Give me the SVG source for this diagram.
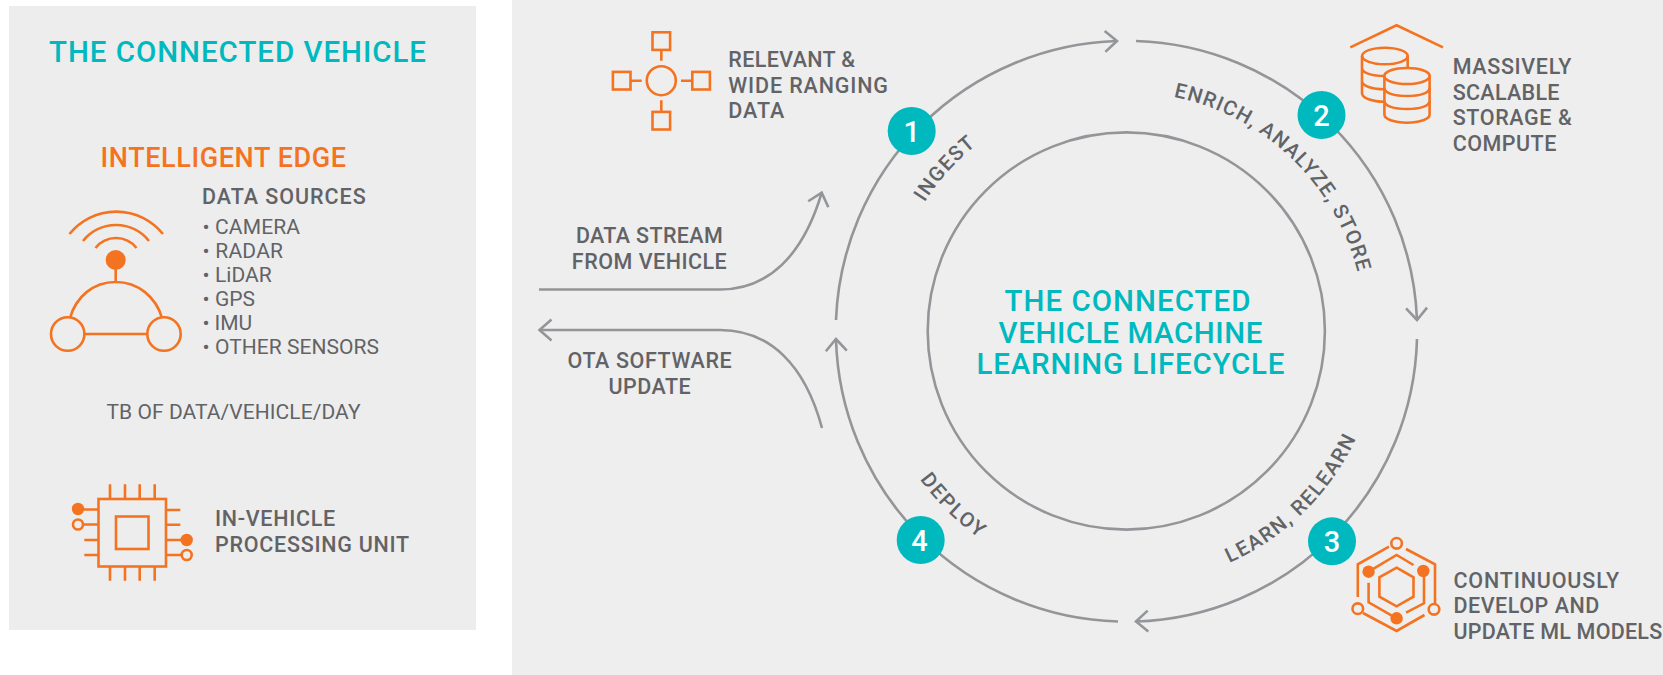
<svg xmlns="http://www.w3.org/2000/svg" width="1663" height="675" viewBox="0 0 1663 675">
<style>
text{font-family:Roboto,"Liberation Sans",sans-serif;fill:#626366}
.h{font-weight:500;fill:#00b9bf;font-size:29.5px;letter-spacing:1px}
.e{font-weight:500;fill:#f47321;font-size:27px;letter-spacing:1px}
.l{font-weight:500;font-size:21.5px;letter-spacing:.8px}
.r{font-size:21px}
.a{font-weight:500;font-size:20.5px;letter-spacing:1.3px}
.n{font-weight:500;font-size:29px;fill:#fff;text-anchor:middle}
.m{text-anchor:middle}
.c{fill:none;stroke:#939598;stroke-width:2.6}
.i{fill:none;stroke:#f47321;stroke-width:2.6}
.f{fill:#f47321;stroke:none}
.b{fill:#00b9bf}
</style>
<defs>
<marker id="ah" markerUnits="userSpaceOnUse" markerWidth="30" markerHeight="30" refX="15" refY="15" orient="auto" overflow="visible"><path d="M3,4.5L15,15L3,25.5" fill="none" stroke="#939598" stroke-width="2.6"/></marker>
<path id="tp" d="M887,331A239,239 0 0 1 1365,331"/>
<path id="bp" d="M872,331A254,254 0 0 0 1380,331"/>
</defs>
<rect width="1663" height="675" fill="#fff"/>
<rect x="9" y="6" width="467" height="624" fill="#ededed"/>
<rect x="512" y="0" width="1151" height="675" fill="#eee"/>

<g id="connectors">
<path class="c" marker-end="url(#ah)" d="M836,320A290.3,290.3 0 0 1 1117,41"/>
<path class="c" marker-end="url(#ah)" d="M1136,41A290.3,290.3 0 0 1 1417,320"/>
<path class="c" marker-end="url(#ah)" d="M1417,339A290.3,290.3 0 0 1 1136,621.5"/>
<path class="c" marker-end="url(#ah)" d="M1118,621.5A290.3,290.3 0 0 1 836,339"/>
<path class="c" marker-end="url(#ah)" d="M539,289.5H720C768,289.5 803,256 821.7,192.7"/>
<path class="c" marker-end="url(#ah)" d="M822,428C805,365 770,330 720,330H539.5"/>
</g>

<g id="panel-title"><text class="h" x="49" y="61.7" textLength="378">THE CONNECTED VEHICLE</text></g>
<g id="edge-title"><text class="e" x="100.5" y="166.7" textLength="246.5">INTELLIGENT EDGE</text></g>

<g id="vehicle-icon">
<path class="i" d="M69.5,234A60,60 0 0 1 163,234M83,241A42,42 0 0 1 149,241M95.5,248A26,26 0 0 1 136.5,248M115.7,262V282M70,318C76,297 93,282 115.7,282C138,282 156,297 162,318M84.5,334H147.5"/>
<circle class="f" cx="115.7" cy="260" r="10"/>
<circle class="i" cx="67.7" cy="334" r="16.7"/>
<circle class="i" cx="164" cy="334" r="16.7"/>
</g>

<g id="data-sources">
<text class="l" x="202" y="204" textLength="164.5">DATA SOURCES</text>
<text class="r" x="202.5" y="234" textLength="97.5">• CAMERA</text>
<text class="r" x="202.5" y="258" textLength="80.5">• RADAR</text>
<text class="r" x="202.5" y="282" textLength="69.2">• LiDAR</text>
<text class="r" x="202.5" y="306" textLength="52.5">• GPS</text>
<text class="r" x="202.5" y="330" textLength="49.5">• IMU</text>
<text class="r" x="202.5" y="354" textLength="176.5">• OTHER SENSORS</text>
</g>
<g id="data-volume"><text class="r" x="106.5" y="418.7" textLength="254">TB OF DATA/VEHICLE/DAY</text></g>

<g id="chip-icon">
<rect class="i" x="98.5" y="499" width="67.5" height="67.5"/>
<rect class="i" x="116" y="516.5" width="32.5" height="32.5"/>
<path class="i" d="M110,484.3V499M125,484.3V499M139.7,484.3V499M154.7,484.3V499M110,566V580.7M125,566V580.7M139.7,566V580.7M154.7,566V580.7M78,509.5H98.5M83,524.5H98.5M84.3,540H98.5M84.3,555H98.5M166,510H180.3M166,524.7H180.3M166,540H186.7M166,555H182"/>
<circle class="f" cx="78" cy="509" r="6.2"/>
<circle class="i" cx="78" cy="524.5" r="5"/>
<circle class="f" cx="186.7" cy="540" r="6.2"/>
<circle class="i" cx="186.7" cy="555" r="5"/>
</g>
<g id="chip-label">
<text class="l" x="215" y="525.7" textLength="121">IN-VEHICLE</text>
<text class="l" x="215" y="551.7" textLength="195">PROCESSING UNIT</text>
</g>

<g id="data-icon">
<circle class="i" cx="661.3" cy="80.7" r="14.5"/>
<path class="i" d="M661.3,50V60.7M661.3,100.3V111.7M630.3,80.7H641.7M681,80.7H692.3"/>
<rect class="i" x="652.5" y="32.3" width="17.6" height="17.6"/>
<rect class="i" x="652.5" y="111.9" width="17.6" height="17.6"/>
<rect class="i" x="612.9" y="71.9" width="17.6" height="17.6"/>
<rect class="i" x="692.3" y="71.9" width="17.6" height="17.6"/>
</g>
<g id="data-label">
<text class="l" x="728.3" y="67.3" textLength="127.5">RELEVANT &amp;</text>
<text class="l" x="728.3" y="93" textLength="160.5">WIDE RANGING</text>
<text class="l" x="728.3" y="118" textLength="56.7">DATA</text>
</g>

<g id="stream-label">
<text class="l m" x="649.7" y="243.3" textLength="147.6">DATA STREAM</text>
<text class="l m" x="649.7" y="269" textLength="155.7">FROM VEHICLE</text>
</g>
<g id="ota-label">
<text class="l m" x="650" y="368" textLength="165">OTA SOFTWARE</text>
<text class="l m" x="650" y="394.3" textLength="83">UPDATE</text>
</g>

<g id="inner-circle">
<circle class="c" cx="1126.3" cy="331" r="198.6"/>
<text class="h m" x="1128" y="311" textLength="247">THE CONNECTED</text>
<text class="h m" x="1131" y="342.5" textLength="265">VEHICLE MACHINE</text>
<text class="h m" x="1131" y="374" textLength="309">LEARNING LIFECYCLE</text>
</g>

<g id="stage-labels">
<text class="a m"><textPath href="#tp" startOffset="23.3%">INGEST</textPath></text>
<text class="a m" style="letter-spacing:1.2px"><textPath href="#tp" startOffset="74.3%">ENRICH, ANALYZE, STORE</textPath></text>
<text class="a m" style="letter-spacing:1.5px"><textPath href="#bp" startOffset="74.8%">LEARN, RELEARN</textPath></text>
<text class="a m" style="letter-spacing:1.8px"><textPath href="#bp" startOffset="25.2%">DEPLOY</textPath></text>
</g>

<g id="step-1"><circle class="b" cx="911.7" cy="131" r="24"/><text class="n" x="911.7" y="141.5">1</text></g>
<g id="step-2"><circle class="b" cx="1321.5" cy="115" r="24"/><text class="n" x="1321.5" y="125.5">2</text></g>
<g id="step-3"><circle class="b" cx="1332" cy="541.3" r="24"/><text class="n" x="1332" y="551.8">3</text></g>
<g id="step-4"><circle class="b" cx="920.7" cy="540" r="24"/><text class="n" x="919.5" y="550.5">4</text></g>

<g id="storage-icon">
<path class="i" d="M1350.3,47.3L1396.6,25.3L1443,47.3"/>
<path class="i" d="M1362,56V93C1362,98 1372,101.7 1385,101.7M1362,68C1362,73 1372,76 1385,76M1362,81C1362,86 1372,89.3 1385,89.3M1407.7,56V72"/>
<ellipse class="i" cx="1384.9" cy="56" rx="22.8" ry="8.3"/>
<path class="i" style="fill:#eee" d="M1384.4,76V114.5C1384.4,119 1394,122.7 1407,122.7C1420,122.7 1429.6,119 1429.6,114.5V76Z"/>
<ellipse class="i" cx="1407" cy="76" rx="22.6" ry="8" style="fill:#eee"/>
<path class="i" d="M1384.4,88C1384.4,93 1394,96 1407,96C1420,96 1429.6,93 1429.6,88M1384.4,101C1384.4,106 1394,109 1407,109C1420,109 1429.6,106 1429.6,101"/>
</g>
<g id="storage-label">
<text class="l" x="1452.7" y="74" textLength="119.5">MASSIVELY</text>
<text class="l" x="1452.7" y="100" textLength="107.6">SCALABLE</text>
<text class="l" x="1452.7" y="125" textLength="120">STORAGE &amp;</text>
<text class="l" x="1452.7" y="151" textLength="104.4">COMPUTE</text>
</g>

<g id="ml-icon">
<path class="i" d="M1389,546.7L1357.8,564.3V597M1406,549L1435,564.3V604M1363,613L1396.6,631L1424.5,615"/>
<circle class="i" cx="1396.6" cy="543.3" r="5.3"/>
<circle class="i" cx="1357.8" cy="608.7" r="5.3"/>
<circle class="i" cx="1434" cy="609.3" r="5.3"/>
<path class="i" d="M1368.6,571.7L1396.6,555L1413.5,565M1424,571V603.3L1406,612.7M1368.6,582.7V602.3L1396.6,618.3"/>
<circle class="f" cx="1368.6" cy="571.7" r="6.2"/>
<circle class="f" cx="1423.3" cy="571" r="6.2"/>
<circle class="f" cx="1396.6" cy="618.3" r="6.2"/>
<path class="i" d="M1396.6,567.7L1413.5,577.3V596.7L1396.6,606.3L1379.4,596.7V577.3Z"/>
</g>
<g id="ml-label">
<text class="l" x="1453.4" y="588.3" textLength="166.5">CONTINUOUSLY</text>
<text class="l" x="1453.4" y="613.3" textLength="146.8">DEVELOP AND</text>
<text class="l" x="1453.4" y="638.7" textLength="209.6">UPDATE ML MODELS</text>
</g>
</svg>
